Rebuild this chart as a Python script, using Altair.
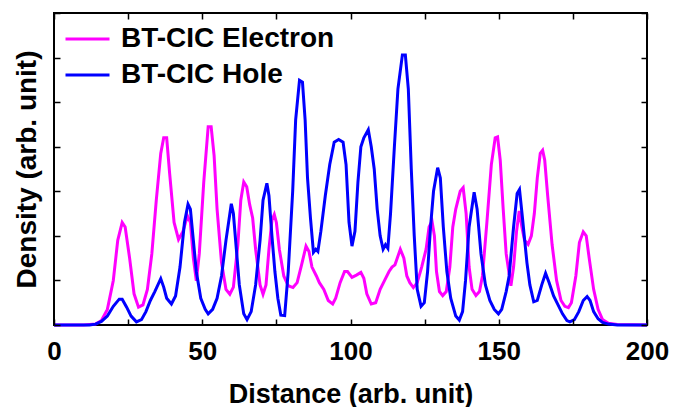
import altair as alt
import pandas as pd

# ---- data ----
electron_x = [0, 10, 14, 16, 18, 20, 21.5, 23, 24, 25.5, 27, 28.5, 30, 31.5, 33, 34.5, 36, 37, 38, 39,
              40.5, 42, 43.5, 45, 46, 47, 48, 49, 50.5, 52, 53, 54, 55, 56.5, 58, 59.3, 60.5, 62, 63, 64,
              65, 66, 67, 68, 69.5, 70.5, 71.5, 72.5, 73.5, 74.3, 75, 76, 77.5, 79, 80.6, 82, 83.5, 85, 86, 87,
              88.5, 89.5, 91, 92.5, 94, 95, 96.5, 98, 99, 100.5, 102, 103.5, 104.5, 105.5, 107, 108.5, 110, 111.5, 113, 114,
              115, 116.8, 118, 119, 120, 121.2, 122.5, 124, 125.5, 126.5, 127.5, 128.3, 129, 130, 131.1, 132.3, 133.5, 134.5, 135.5, 137,
              138, 139, 140, 141, 142.3, 143.5, 144.5, 146, 147.5, 148.8, 149.6, 150.5, 151.5, 152.5, 154.1, 155, 156, 156.9, 157.8, 158.7,
              159.9, 161, 162, 163, 164, 164.8, 165.5, 166.5, 168, 169.5, 171, 172.3, 173.5, 174.5, 176, 177.2, 178.5, 179.5, 180.5, 182,
              183.5, 185, 187, 190, 200]
electron_y = [0, 0, 0.02, 0.1, 0.35, 1.0, 1.9, 2.3, 2.2, 1.5, 0.7, 0.4, 0.45, 0.8, 1.6, 2.8, 3.85, 4.2, 4.2, 3.4,
              2.3, 1.92, 2.1, 2.45, 2.3, 1.5, 0.99, 1.6, 3.2, 4.45, 4.45, 3.8, 2.6, 1.4, 0.8, 0.69, 0.85, 1.8, 2.8, 3.21,
              3.1, 2.7, 2.4, 1.7, 0.9, 0.69, 0.9, 1.7, 2.35, 2.48, 2.3, 1.7, 1.1, 0.88, 0.84, 0.95, 1.35, 1.77, 1.65, 1.3,
              1.1, 0.95, 0.8, 0.55, 0.47, 0.6, 0.95, 1.2, 1.2, 1.07, 1.12, 1.18, 1.05, 0.7, 0.47, 0.5, 0.8, 1.0, 1.2, 1.3,
              1.35, 1.7, 1.5, 1.1, 0.95, 0.84, 0.95, 1.3, 1.7, 2.2, 2.33, 2.0, 1.2, 0.75, 0.66, 0.75, 1.3, 2.2, 2.6, 3.0,
              3.08, 2.5, 1.3, 0.8, 0.66, 0.75, 1.1, 2.3, 3.6, 4.2, 4.22, 3.7, 2.6, 1.6, 0.88, 1.3, 2.1, 2.56, 2.2, 1.9,
              1.81, 2.0, 2.5, 3.3, 3.85, 3.92, 3.7, 2.9, 1.8, 1.0, 0.55, 0.42, 0.39, 0.5, 1.1, 1.85, 2.09, 2.0, 1.5, 0.8,
              0.35, 0.12, 0.04, 0.01, 0]

hole_x = [0, 12, 14, 16, 18, 20, 22, 23, 24.5, 26, 27.8, 29.5, 31, 32.5, 34, 36, 37, 38, 39.6, 41,
          42.5, 44, 45.2, 46, 47, 48, 49.5, 51, 52, 53.5, 55, 56.5, 58, 59.8, 60.5, 61.5, 62.5, 64, 65.1, 66.5,
          68, 69.5, 70.5, 71.8, 72.5, 73.5, 74.5, 75.5, 76.5, 77.8, 79, 80.5, 81.5, 82.8, 83.8, 84.7, 85.5, 86.5, 87.5, 88.3,
          89, 90, 91.5, 93, 94.5, 96, 97.5, 98.5, 99.5, 100.5, 101.5, 102.5, 103.5, 104.5, 106, 107, 108, 109, 110, 111,
          111.8, 112.6, 113.5, 114.8, 116, 117.5, 118.5, 119.5, 120.5, 121.5, 122.5, 123.8, 124.9, 126, 127, 128, 129.4, 130.3, 131.3, 132.5,
          133.8, 135.5, 136.7, 137.8, 138.8, 140, 141.7, 142.7, 144, 145.5, 147, 148.5, 149.9, 151, 152.5, 153.5, 155, 156.2, 157, 158,
          159.5, 160.5, 161.8, 163, 164.5, 165.8, 167, 168.5, 170, 171.5, 173, 174, 175.5, 177, 178.5, 179.8, 180.8, 182, 183.5, 185,
          187, 190, 200]
hole_y = [0, 0, 0.02, 0.08, 0.2, 0.42, 0.58, 0.58, 0.4, 0.2, 0.07, 0.12, 0.3, 0.55, 0.75, 1.04, 0.85, 0.6, 0.47, 0.65,
          1.3, 2.3, 2.71, 2.6, 1.9, 1.2, 0.6, 0.35, 0.25, 0.35, 0.6, 1.1, 1.9, 2.72, 2.5, 1.7, 0.9, 0.25, 0.12, 0.3,
          0.9, 1.9, 2.8, 3.18, 2.9, 2.0, 1.2, 0.6, 0.22, 0.21, 1.2, 3.0, 4.6, 5.49, 5.45, 4.6, 3.3, 2.4, 1.63, 1.7,
          1.65, 2.1, 2.9, 3.6, 4.1, 4.16, 4.1, 3.6, 2.3, 1.77, 2.1, 3.2, 4.0, 4.2, 4.38, 4.0, 3.5, 2.6, 2.0, 1.7,
          1.8, 1.72, 2.5, 4.0, 5.3, 6.06, 6.06, 5.3, 3.5, 2.0, 0.8, 0.42, 0.5, 1.2, 2.2, 3.0, 3.53, 3.3, 2.2, 1.2,
          0.6, 0.2, 0.11, 0.3, 1.0, 2.2, 2.98, 2.6, 1.6, 0.9, 0.55, 0.35, 0.25, 0.35, 0.75, 1.1, 2.2, 2.95, 3.04, 2.4,
          1.4, 0.9, 0.52, 0.55, 0.9, 1.16, 0.95, 0.65, 0.45, 0.25, 0.1, 0.07, 0.12, 0.3, 0.55, 0.64, 0.55, 0.3, 0.14, 0.06,
          0.02, 0, 0]

series_names = ["BT-CIC Electron", "BT-CIC Hole"]
series_colors = ["#FF00FF", "#0000FF"]
x_ticks = [0, 25, 50, 75, 100, 125, 150, 175, 200]
y_ticks = [0, 1, 2, 3, 4, 5, 6, 7]

df = pd.concat([
    pd.DataFrame({"x": electron_x, "y": electron_y, "series": series_names[0], "order": 0}),
    pd.DataFrame({"x": hole_x, "y": hole_y, "series": series_names[1], "order": 1}),
], ignore_index=True)

FONT = "Liberation Sans"

xscale = alt.Scale(domain=[0, 200], nice=False, zero=False)
yscale = alt.Scale(domain=[0, 7], nice=False)

tick_style = dict(offset=-6, tickSize=6, tickWidth=1.5, tickColor="black",
                  domain=False, grid=False, zindex=2)

lines = alt.Chart(df).mark_line(strokeWidth=3, clip=False).encode(
    x=alt.X("x:Q", scale=xscale, axis=alt.Axis(
        orient="bottom", values=x_ticks,
        labelExpr="datum.value % 50 == 0 ? datum.label : ''",
        labelFlush=False,
        labelFont=FONT, labelFontSize=26, labelFontWeight="bold", labelColor="black",
        labelPadding=13,
        title="Distance (arb. unit)", titleFont=FONT, titleFontSize=27,
        titleFontWeight="bold", titleColor="black", titlePadding=17,
        **tick_style)),
    y=alt.Y("y:Q", scale=yscale, axis=alt.Axis(
        orient="left", values=y_ticks, labels=False,
        title="Density (arb. unit)", titleFont=FONT, titleFontSize=28,
        titleFontWeight="bold", titleColor="black",
        titleX=-33, titleY=156, titleBaseline="middle", titleAlign="center", titleAngle=-90,
        **tick_style)),
    color=alt.Color("series:N", scale=alt.Scale(domain=series_names, range=series_colors),
                    legend=alt.Legend(
                        orient="none", legendX=10, legendY=9, title=None,
                        symbolType="stroke", symbolSize=1936, symbolStrokeWidth=3,
                        labelFont=FONT, labelFontSize=28, labelFontWeight="bold",
                        labelColor="black", labelOffset=10, labelLimit=600, clipHeight=34,
                        rowPadding=2, padding=0)),
    order=alt.Order("order:Q"),
)

mirror = alt.Chart(df).mark_point(opacity=0, size=1).encode(
    x=alt.X("x:Q", scale=xscale, axis=alt.Axis(
        orient="top", values=x_ticks, labels=False, title=None, **tick_style)),
    y=alt.Y("y:Q", scale=yscale, axis=alt.Axis(
        orient="right", values=y_ticks, labels=False, title=None, **tick_style)),
)

chart = alt.layer(mirror, lines).properties(
    width=593, height=312,
    autosize=alt.AutoSizeParams(type="none"),
    padding={"left": 46, "top": 5, "right": 23, "bottom": 82},
).configure_view(stroke="black", strokeWidth=2)

chart.save("out.html", embed_options={"renderer": "svg", "actions": False})
